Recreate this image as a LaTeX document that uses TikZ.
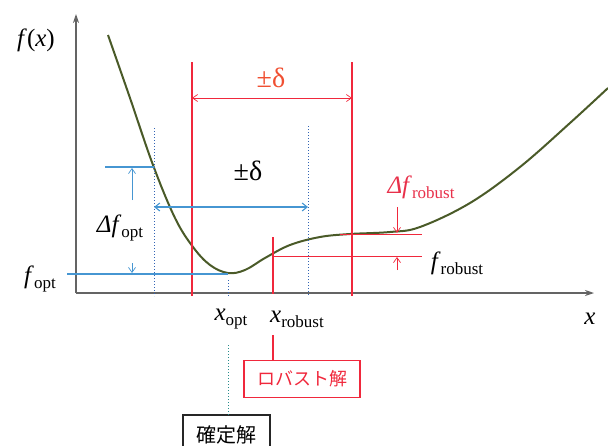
\documentclass[tikz,border=0pt]{standalone}
\usepackage{fontspec}
\setmainfont{Liberation Serif}
\newfontfamily\cjk{Noto Sans CJK JP}
\usetikzlibrary{arrows.meta}
\definecolor{curvegreen}{RGB}{74,90,40}
\definecolor{rline}{RGB}{240,40,60}
\definecolor{rtext}{RGB}{240,80,50}
\definecolor{rlabel}{RGB}{232,48,74}
\definecolor{bline}{RGB}{70,150,210}
\definecolor{bdot}{RGB}{50,100,180}
\definecolor{tdot}{RGB}{40,140,140}
\definecolor{axisgray}{RGB}{100,100,100}
\newcommand{\subt}[1]{{\fontsize{17}{18}\selectfont\raisebox{-5pt}{#1}}}
\tikzset{
  axisline/.style={axisgray, line width=1.1pt, -{Stealth[length=9pt,width=6pt]}, color=axisgray},
  redv/.style={rline, line width=1.8pt},
  redh/.style={rline, line width=1pt},
  bluev/.style={bdot, line width=1pt, dotted},
  blueh/.style={bline, line width=1.1pt},
  thinarr/.style={line width=0.7pt, -{Straight Barb[length=5pt,width=7pt]}},
  lab/.style={inner sep=1pt, font=\fontsize{25}{28}\selectfont},
  pm/.style={inner sep=1pt, font=\fontsize{28}{30}\selectfont},
  jbox/.style={draw, line width=1.4pt, inner sep=0pt, font=\cjk\fontsize{18}{20}\selectfont}
}
\begin{document}
\begin{tikzpicture}[x=1pt,y=-1pt]
\useasboundingbox (0,0) rectangle (608,445);
% axes
\coordinate (O) at (76,293);
\coordinate (ytop) at (76,14);
\coordinate (xend) at (594,293);
\draw[axisline] (O) -- (ytop);
\draw[axisline] (O) -- (xend);
% curve
\draw[curvegreen, line width=2pt] plot[smooth, tension=0.6] coordinates {
 (108,35) (130,98) (153,165) (175,218) (193,247) (210,265) (228,273)
 (245,270) (265,258) (290,245) (320,237) (350,234) (390,232) (420,227)
 (470,203) (520,167) (570,123) (608,88)};
% red verticals
\coordinate (rA1) at (192,62); \coordinate (rA0) at (192,296);
\coordinate (rB1) at (352,62); \coordinate (rB0) at (352,296);
\draw[redv] (rA1) -- (rA0);
\draw[redv] (rB1) -- (rB0);
\coordinate (rarL) at (192,98); \coordinate (rarR) at (352,98);
\draw[rline, line width=0.7pt, {Straight Barb[length=5pt,width=7pt]}-{Straight Barb[length=5pt,width=7pt]}] (rarL) -- (rarR);
\node[pm, text=rtext] (pmred) at (271,78) {±δ};
% blue dotted verticals
\coordinate (bA1) at (154,128); \coordinate (bA0) at (154,296);
\coordinate (bB1) at (308,126); \coordinate (bB0) at (308,296);
\draw[bluev] (bA1) -- (bA0);
\draw[bluev] (bB1) -- (bB0);
\coordinate (barL) at (154,207); \coordinate (barR) at (308,207);
\draw[bline, line width=1.1pt, {Straight Barb[length=5pt,width=8pt]}-{Straight Barb[length=5pt,width=8pt]}] (barL) -- (barR);
\node[pm] (pmblue) at (248,171) {±δ};
% f_opt lines
\coordinate (bh1a) at (105,167); \coordinate (bh1b) at (154,167);
\coordinate (bh2a) at (67,274); \coordinate (bh2b) at (228,274);
\draw[blueh] (bh1a) -- (bh1b);
\draw[blueh] (bh2a) -- (bh2b);
\coordinate (da1) at (132,200); \coordinate (da2) at (132,168);
\coordinate (db1) at (132,263); \coordinate (db2) at (132,273);
\draw[bline, thinarr] (da1) -- (da2);
\draw[bline, thinarr] (db1) -- (db2);
\node[lab] (dfopt) at (120,228) {\textit{Δf}\subt{opt}};
\node[lab] (fopt) at (40,279) {\textit{f}\subt{opt}};
\node[lab] (fx) at (36,40) {\textit{f}(\textit{x})};
% x_opt
\coordinate (xo1) at (228,280); \coordinate (xo2) at (228,298);
\draw[bdot, line width=1pt, dotted] (xo1) -- (xo2);
\node[lab] (xopt) at (231,319) {\textit{x}\subt{opt}};
\node[lab] (xrob) at (297,319) {\textit{x}\subt{robust}};
\node[lab] (xlab) at (590,319) {\textit{x}};
% x_robust
\coordinate (xr1) at (273,237); \coordinate (xr0) at (273,294);
\draw[redv] (xr1) -- (xr0);
% red horizontals
\coordinate (rh1a) at (340,234); \coordinate (rh1b) at (422,234);
\coordinate (rh2a) at (273,256); \coordinate (rh2b) at (422,256);
\draw[redh] (rh1a) -- (rh1b);
\draw[redh] (rh2a) -- (rh2b);
\coordinate (ra1) at (397,207); \coordinate (ra2) at (397,233);
\coordinate (rb1) at (397,270); \coordinate (rb2) at (397,257);
\draw[rline, thinarr] (ra1) -- (ra2);
\draw[rline, thinarr] (rb1) -- (rb2);
\node[lab, text=rlabel] (dfrob) at (421,187) {\textit{Δf}\subt{robust}};
\node[lab] (frob) at (457,263) {\textit{f}\subt{robust}};
% boxes
\node[jbox, draw=rline, text=rline, minimum width=116pt, minimum height=37pt] (robbox) at (302,379) {ロバスト解};
\draw[black!85, line width=1.4pt] (183,450) -- (183,415) -- (270,415) -- (270,450);
\node[inner sep=0pt, font=\cjk\fontsize{20}{21}\selectfont] (kbox) at (226,435) {確定解};
\coordinate (xrb) at (273,335);
\draw[rline, line width=1.5pt] (xrb) -- (xrb |- robbox.north);
\coordinate (to1) at (228,345); \coordinate (to2) at (228,415);
\draw[tdot, line width=1pt, dotted] (to1) -- (to2);
\end{tikzpicture}
\end{document}
